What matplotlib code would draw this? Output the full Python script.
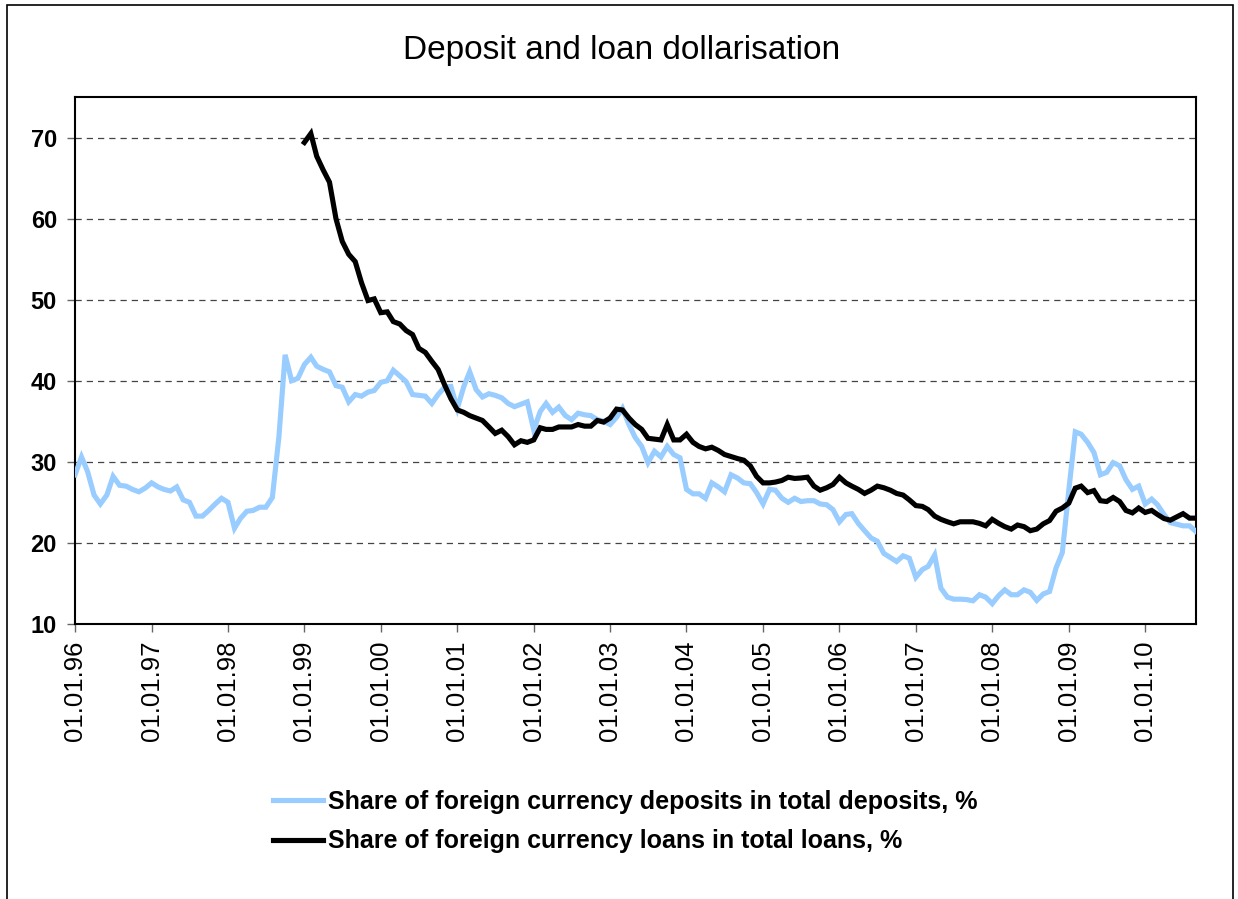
import matplotlib
matplotlib.use("Agg")
import matplotlib.pyplot as plt
import matplotlib.dates as mdates
from matplotlib.patches import Rectangle
import pandas as pd

plt.rcParams["font.family"] = ["Liberation Sans", "DejaVu Sans"]

# monthly shares, %: deposits from Jan 1996, loans from Jan 1999, both to Sep 2010
deposits = [
    28.4, 30.6, 28.8, 25.9, 24.8, 25.9, 28.2, 27.1, 27.0, 26.6, 26.3, 26.75,   # 1996
    27.4, 26.9, 26.6, 26.4, 26.9, 25.3, 25.0, 23.3, 23.3, 24.0, 24.8, 25.5,    # 1997
    25.0, 21.8, 23.0, 23.9, 24.0, 24.4, 24.4, 25.6, 33.0, 43.2, 40.0, 40.3,    # 1998
    42.0, 42.9, 41.8, 41.4, 41.1, 39.4, 39.2, 37.4, 38.3, 38.1, 38.6, 38.8,    # 1999
    39.8, 40.0, 41.3, 40.6, 39.9, 38.3, 38.2, 38.1, 37.2, 38.3, 39.2, 39.3,    # 2000
    36.6, 39.3, 41.1, 38.9, 38.0, 38.4, 38.2, 37.9, 37.2, 36.8, 37.1, 37.4,    # 2001
    33.95, 36.2, 37.2, 36.1, 36.75, 35.7, 35.2, 36.0, 35.8, 35.7, 35.2, 35.0,  # 2002
    34.6, 35.5, 36.6, 34.6, 33.0, 31.9, 29.9, 31.3, 30.6, 31.9, 30.9, 30.5,    # 2003
    26.6, 26.05, 26.05, 25.5, 27.4, 26.9, 26.3, 28.4, 28.0, 27.4, 27.3, 26.2,  # 2004
    24.8, 26.6, 26.5, 25.5, 25.0, 25.5, 25.1, 25.2, 25.2, 24.8, 24.7, 24.1,    # 2005
    22.6, 23.5, 23.6, 22.4, 21.5, 20.6, 20.2, 18.7, 18.2, 17.7, 18.4, 18.1,    # 2006
    15.75, 16.7, 17.1, 18.5, 14.4, 13.3, 13.05, 13.05, 13.0, 12.85, 13.6, 13.3,  # 2007
    12.5, 13.5, 14.2, 13.6, 13.6, 14.2, 13.9, 12.9, 13.7, 14.0, 16.9, 18.8,    # 2008
    26.5, 33.7, 33.4, 32.4, 31.15, 28.4, 28.7, 29.9, 29.5, 27.8, 26.6, 27.0,   # 2009
    24.8, 25.4, 24.7, 23.5, 22.5, 22.3, 22.1, 22.1, 21.4,                      # 2010
]

loans = [
    69.4, 70.5, 67.7, 66.0, 64.5, 60.0, 57.2, 55.6, 54.7, 52.1, 49.9, 50.1,    # 1999
    48.4, 48.5, 47.3, 47.0, 46.2, 45.7, 44.0, 43.5, 42.4, 41.4, 39.5, 37.8,    # 2000
    36.4, 36.1, 35.7, 35.4, 35.1, 34.3, 33.5, 33.9, 33.1, 32.1, 32.6, 32.4,    # 2001
    32.7, 34.2, 34.0, 34.0, 34.3, 34.3, 34.3, 34.6, 34.4, 34.4, 35.1, 34.9,    # 2002
    35.4, 36.5, 36.4, 35.4, 34.6, 34.0, 32.9, 32.8, 32.7, 34.6, 32.7, 32.7,    # 2003
    33.4, 32.4, 31.9, 31.6, 31.8, 31.4, 30.9, 30.65, 30.4, 30.2, 29.5, 28.2,   # 2004
    27.4, 27.4, 27.5, 27.7, 28.1, 27.95, 28.0, 28.1, 27.0, 26.5, 26.8, 27.2,   # 2005
    28.1, 27.4, 27.0, 26.6, 26.1, 26.5, 27.0, 26.8, 26.5, 26.1, 25.9, 25.3,    # 2006
    24.6, 24.5, 24.1, 23.3, 22.9, 22.6, 22.35, 22.6, 22.6, 22.6, 22.4, 22.1,   # 2007
    22.9, 22.4, 22.0, 21.7, 22.2, 22.0, 21.5, 21.7, 22.35, 22.75, 23.9, 24.3,  # 2008
    24.9, 26.75, 27.0, 26.2, 26.45, 25.2, 25.1, 25.6, 25.1, 24.0, 23.7, 24.3,  # 2009
    23.75, 24.0, 23.5, 23.0, 22.8, 23.2, 23.6, 23.05, 23.05,                   # 2010
]

dep_dates = pd.date_range("1996-01-01", periods=len(deposits), freq="MS")
loan_dates = pd.date_range("1999-01-01", periods=len(loans), freq="MS")

title = "Deposit and loan dollarisation"
dep_label = "Share of foreign currency deposits in total deposits, %"
loan_label = "Share of foreign currency loans in total loans, %"

fig = plt.figure(figsize=(12.38, 8.99), dpi=100)
ax = fig.add_axes([0.0606, 0.306, 0.9055, 0.586])

ax.plot(dep_dates, deposits, color="#99CCFF", linewidth=3.7, label=dep_label,
        solid_joinstyle="miter", zorder=3)
ax.plot(loan_dates, loans, color="black", linewidth=3.7, label=loan_label,
        solid_joinstyle="miter", zorder=4)

ax.set_xlim(dep_dates[0], dep_dates[-1])
ax.set_ylim(10, 75)
ax.set_yticks(range(10, 71, 10))
ax.yaxis.grid(True, color="#444444", linestyle=(0, (5, 4)), linewidth=0.9)
ax.set_axisbelow(True)

ax.xaxis.set_major_locator(mdates.YearLocator(1, month=1, day=1))
ax.xaxis.set_major_formatter(mdates.DateFormatter("%d.%m.%y"))
for lbl in ax.get_xticklabels():
    lbl.set_rotation(90)

ax.tick_params(axis="x", direction="out", length=6, width=1, color="#666666",
               labelsize=18.5, pad=6)
ax.tick_params(axis="y", direction="out", length=6, width=1, color="#666666",
               labelsize=17, pad=7)
for lbl in ax.get_yticklabels():
    lbl.set_fontweight("bold")
for sp in ax.spines.values():
    sp.set_linewidth(1.5)
    sp.set_color("black")

fig.text(0.502, 0.944, title, ha="center", va="center", fontsize=24)

fig.legend(loc="center left", bbox_to_anchor=(0.202, 0.086), frameon=False,
           prop={"weight": "bold", "size": 18}, handlelength=2.0,
           handletextpad=0.2, labelspacing=0.62)

# outer chart border
fig.patches.append(Rectangle((7 / 1238, -0.01), 1226 / 1238, 1.01 - 5 / 899,
                             transform=fig.transFigure, fill=False,
                             edgecolor="black", linewidth=1.2))

fig.savefig("out.png", dpi=100)
